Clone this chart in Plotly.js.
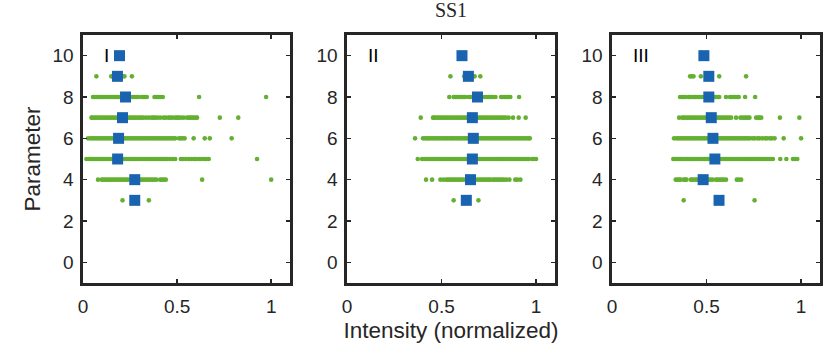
<!DOCTYPE html>
<html>
<head>
<meta charset="utf-8">
<script src="https://cdn.plot.ly/plotly-3.0.1.min.js"></script>
<style>html,body{margin:0;padding:0;background:#fff;}#chart{width:827px;height:354px;}</style>
</head>
<body>
<div id="chart"></div>
<script>
// Parameter values (rows)
const params = [3, 4, 5, 6, 7, 8, 9, 10];
const panelLabels = ["I", "II", "III"];
const xTicks = [0, 0.5, 1];
const xTickText = ["0", "0.5", "1"];
const yTicks = [0, 2, 4, 6, 8, 10];

// Blue squares (per parameter 3..10)
const medI   = [0.275, 0.275, 0.184, 0.189, 0.210, 0.226, 0.183, 0.194];
const medII  = [0.631, 0.653, 0.663, 0.668, 0.663, 0.690, 0.642, 0.608];
const medIII = [0.566, 0.482, 0.544, 0.534, 0.525, 0.512, 0.512, 0.486];

// Green dots, panel I, one array per parameter
const I3 = [0.21, 0.35];
const I4 = [0.08, 0.10, 0.11, 0.12, 0.13, 0.14, 0.15, 0.16, 0.17, 0.18, 0.19, 0.20, 0.21, 0.22, 0.23, 0.24, 0.30, 0.31, 0.32, 0.33, 0.34, 0.35, 0.36, 0.37, 0.38, 0.39, 0.41, 0.42, 0.43, 0.44, 0.633, 1.0];
const I5 = [0.018, 0.03, 0.04, 0.05, 0.06, 0.07, 0.08, 0.09, 0.10, 0.11, 0.12, 0.13, 0.14, 0.15, 0.16, 0.17, 0.18, 0.19, 0.20, 0.21, 0.22, 0.23, 0.24, 0.25, 0.26, 0.27, 0.28, 0.29, 0.30, 0.31, 0.32, 0.33, 0.34, 0.35, 0.36, 0.37, 0.38, 0.39, 0.40, 0.41, 0.42, 0.43, 0.44, 0.446, 0.46, 0.475, 0.49, 0.52, 0.53, 0.545, 0.56, 0.575, 0.59, 0.60, 0.615, 0.63, 0.645, 0.655, 0.668, 0.925];
const I6 = [0.027, 0.04, 0.05, 0.06, 0.07, 0.08, 0.09, 0.10, 0.11, 0.12, 0.13, 0.14, 0.15, 0.16, 0.17, 0.18, 0.19, 0.20, 0.21, 0.22, 0.23, 0.24, 0.25, 0.26, 0.27, 0.28, 0.29, 0.30, 0.31, 0.32, 0.33, 0.34, 0.35, 0.36, 0.37, 0.38, 0.39, 0.40, 0.41, 0.42, 0.43, 0.44, 0.45, 0.46, 0.47, 0.48, 0.49, 0.51, 0.52, 0.53, 0.54, 0.588, 0.647, 0.674, 0.79];
const I7 = [0.045, 0.05, 0.06, 0.07, 0.08, 0.09, 0.10, 0.11, 0.12, 0.13, 0.14, 0.15, 0.16, 0.17, 0.18, 0.19, 0.20, 0.21, 0.22, 0.23, 0.24, 0.25, 0.26, 0.27, 0.28, 0.29, 0.30, 0.31, 0.32, 0.335, 0.35, 0.365, 0.374, 0.383, 0.395, 0.41, 0.428, 0.44, 0.455, 0.463, 0.475, 0.49, 0.50, 0.508, 0.52, 0.535, 0.553, 0.563, 0.57, 0.58, 0.59, 0.60, 0.606, 0.727, 0.825];
const I8 = [0.053, 0.06, 0.07, 0.08, 0.09, 0.10, 0.11, 0.12, 0.13, 0.14, 0.15, 0.16, 0.17, 0.178, 0.187, 0.196, 0.21, 0.22, 0.23, 0.24, 0.25, 0.255, 0.265, 0.275, 0.285, 0.294, 0.312, 0.322, 0.33, 0.339, 0.38, 0.39, 0.40, 0.41, 0.424, 0.617, 0.973];
const I9 = [0.071, 0.15, 0.16, 0.17, 0.19, 0.21, 0.22, 0.26];
const I10 = [];

// Green dots, panel II
const II3 = [0.564, 0.695];
const II4 = [0.418, 0.45, 0.494, 0.511, 0.526, 0.535, 0.545, 0.555, 0.565, 0.575, 0.585, 0.595, 0.605, 0.617, 0.63, 0.67, 0.688, 0.70, 0.71, 0.72, 0.73, 0.74, 0.75, 0.758, 0.772, 0.78, 0.79, 0.80, 0.81, 0.82, 0.83, 0.843, 0.859, 0.89, 0.90, 0.917];
const II5 = [0.374, 0.397, 0.41, 0.42, 0.43, 0.44, 0.45, 0.46, 0.47, 0.48, 0.49, 0.50, 0.51, 0.52, 0.53, 0.54, 0.55, 0.56, 0.57, 0.58, 0.59, 0.60, 0.61, 0.62, 0.63, 0.64, 0.65, 0.66, 0.67, 0.68, 0.69, 0.70, 0.71, 0.72, 0.73, 0.74, 0.75, 0.76, 0.77, 0.78, 0.79, 0.80, 0.81, 0.82, 0.83, 0.84, 0.85, 0.86, 0.87, 0.88, 0.89, 0.90, 0.91, 0.92, 0.93, 0.94, 0.95, 0.961, 0.979, 0.99, 1.0];
const II6 = [0.36, 0.402, 0.413, 0.423, 0.43, 0.44, 0.45, 0.46, 0.47, 0.48, 0.49, 0.50, 0.51, 0.52, 0.53, 0.54, 0.55, 0.56, 0.57, 0.58, 0.59, 0.60, 0.61, 0.62, 0.63, 0.64, 0.65, 0.66, 0.67, 0.68, 0.69, 0.70, 0.71, 0.72, 0.73, 0.74, 0.75, 0.76, 0.77, 0.78, 0.79, 0.80, 0.81, 0.82, 0.83, 0.84, 0.85, 0.86, 0.87, 0.88, 0.89, 0.90, 0.91, 0.92, 0.93, 0.94, 0.95, 0.96, 0.967];
const II7 = [0.39, 0.455, 0.46, 0.47, 0.48, 0.49, 0.50, 0.51, 0.52, 0.53, 0.54, 0.55, 0.56, 0.57, 0.58, 0.59, 0.60, 0.61, 0.62, 0.63, 0.64, 0.65, 0.66, 0.67, 0.68, 0.69, 0.70, 0.71, 0.72, 0.73, 0.74, 0.75, 0.76, 0.77, 0.78, 0.79, 0.80, 0.81, 0.82, 0.83, 0.84, 0.855, 0.878, 0.908, 0.945];
const II8 = [0.541, 0.564, 0.575, 0.585, 0.595, 0.605, 0.615, 0.626, 0.644, 0.652, 0.661, 0.69, 0.718, 0.73, 0.74, 0.75, 0.76, 0.77, 0.785, 0.815, 0.825, 0.835, 0.845, 0.855, 0.864, 0.91];
const II9 = [0.547, 0.62, 0.66, 0.675, 0.705];
const II10 = [];

// Green dots, panel III
const III3 = [0.379, 0.754];
const III4 = [0.337, 0.345, 0.355, 0.363, 0.38, 0.387, 0.394, 0.417, 0.425, 0.435, 0.445, 0.452, 0.48, 0.51, 0.52, 0.532, 0.55, 0.56, 0.57, 0.58, 0.59, 0.603, 0.66, 0.67, 0.683];
const III5 = [0.324, 0.33, 0.34, 0.35, 0.36, 0.37, 0.38, 0.39, 0.40, 0.41, 0.42, 0.43, 0.44, 0.45, 0.46, 0.47, 0.48, 0.49, 0.50, 0.51, 0.52, 0.53, 0.54, 0.55, 0.56, 0.57, 0.58, 0.59, 0.60, 0.61, 0.62, 0.63, 0.64, 0.65, 0.66, 0.67, 0.68, 0.69, 0.70, 0.71, 0.72, 0.73, 0.74, 0.75, 0.76, 0.77, 0.78, 0.79, 0.80, 0.81, 0.82, 0.83, 0.84, 0.851, 0.89, 0.922, 0.957, 0.968, 0.98];
const III6 = [0.328, 0.34, 0.35, 0.36, 0.37, 0.38, 0.39, 0.40, 0.41, 0.42, 0.43, 0.44, 0.45, 0.46, 0.47, 0.48, 0.49, 0.50, 0.51, 0.52, 0.53, 0.54, 0.55, 0.56, 0.57, 0.58, 0.59, 0.60, 0.61, 0.62, 0.63, 0.64, 0.65, 0.66, 0.67, 0.68, 0.69, 0.70, 0.71, 0.72, 0.73, 0.745, 0.755, 0.77, 0.78, 0.795, 0.81, 0.82, 0.835, 0.845, 0.86, 0.908, 1.0];
const III7 = [0.355, 0.372, 0.38, 0.39, 0.40, 0.41, 0.42, 0.43, 0.44, 0.45, 0.46, 0.47, 0.48, 0.49, 0.50, 0.51, 0.52, 0.53, 0.54, 0.55, 0.56, 0.57, 0.58, 0.59, 0.60, 0.61, 0.62, 0.63, 0.656, 0.679, 0.69, 0.70, 0.71, 0.72, 0.727, 0.762, 0.772, 0.78, 0.789, 0.888, 0.991];
const III8 = [0.36, 0.37, 0.38, 0.387, 0.404, 0.41, 0.42, 0.43, 0.44, 0.45, 0.46, 0.47, 0.479, 0.50, 0.52, 0.541, 0.55, 0.56, 0.567, 0.603, 0.624, 0.635, 0.645, 0.655, 0.665, 0.67, 0.704, 0.757];
const III9 = [0.413, 0.422, 0.431, 0.47, 0.512, 0.567, 0.709];
const III10 = [];

const rowsI = [I3, I4, I5, I6, I7, I8, I9, I10];
const rowsII = [II3, II4, II5, II6, II7, II8, II9, II10];
const rowsIII = [III3, III4, III5, III6, III7, III8, III9, III10];

const panels = [
  {rows: rowsI, med: medI, xa: "x", ya: "y"},
  {rows: rowsII, med: medII, xa: "x2", ya: "y2"},
  {rows: rowsIII, med: medIII, xa: "x3", ya: "y3"}
];

const GREEN = "#64b031";
const BLUE = "#1a63b0";
const AX = "#262626";
const SANS = "Liberation Sans, Arial, sans-serif";

const traces = [];
panels.forEach(p => {
  const gx = [], gy = [];
  p.rows.forEach((row, i) => row.forEach(v => { gx.push(v); gy.push(params[i]); }));
  traces.push({type: "scatter", mode: "markers", x: gx, y: gy, xaxis: p.xa, yaxis: p.ya,
    marker: {color: GREEN, size: 4.6, line: {width: 0}}, hoverinfo: "skip", showlegend: false});
  traces.push({type: "scatter", mode: "markers", x: p.med, y: params, xaxis: p.xa, yaxis: p.ya,
    marker: {color: BLUE, size: 11, symbol: "square", line: {width: 0}}, showlegend: false});
});

const W = 827, H = 354;
const xDomains = [[83 / W, 290 / W], [347 / W, 555 / W], [612 / W, 820 / W]];
const yDomain = [1 - 283 / H, 1 - 35 / H];

const tickFont = {family: SANS, size: 19, color: AX};
function xAxis(i) {
  const a = {domain: xDomains[i], range: [0, 1.1], tickvals: xTicks, ticktext: xTickText,
    ticks: "inside", ticklen: 4, tickwidth: 1.5, tickcolor: AX, showline: true, linewidth: 2.6,
    linecolor: AX, mirror: "ticks", showgrid: false, zeroline: false, tickfont: tickFont,
    anchor: i === 0 ? "y" : "y" + (i + 1), fixedrange: true, ticklabelstandoff: 5};
  if (i === 1) a.title = {text: "Intensity (normalized)", font: {family: SANS, size: 22.5, color: AX}, standoff: 6};
  return a;
}
function yAxis(i) {
  const a = {domain: yDomain, range: [-1, 11], tickvals: yTicks,
    ticks: "inside", ticklen: 4, tickwidth: 1.5, tickcolor: AX, showline: true, linewidth: 2.6,
    linecolor: AX, mirror: "ticks", showgrid: false, zeroline: false, tickfont: tickFont,
    anchor: i === 0 ? "x" : "x" + (i + 1), fixedrange: true, ticklabelstandoff: 3};
  if (i === 0) a.title = {text: "Parameter", font: {family: SANS, size: 22.5, color: AX}, standoff: 6};
  return a;
}

const annotations = panelLabels.map((t, i) => ({
  text: t, xref: i === 0 ? "x" : "x" + (i + 1), yref: i === 0 ? "y" : "y" + (i + 1),
  x: 0.1, y: 10, xanchor: "left", yanchor: "middle", showarrow: false,
  font: {family: SANS, size: 19, color: "#000"}
}));

const layout = {
  width: W, height: H, margin: {l: 0, r: 0, t: 0, b: 0},
  paper_bgcolor: "#fff", plot_bgcolor: "#fff",
  title: {text: "SS1", font: {family: "Liberation Serif, Times New Roman, serif", size: 20, color: AX},
    x: 451 / W, xanchor: "center", xref: "paper", y: 1 - 3 / H, yanchor: "top", yref: "container"},
  xaxis: xAxis(0), xaxis2: xAxis(1), xaxis3: xAxis(2),
  yaxis: yAxis(0), yaxis2: yAxis(1), yaxis3: yAxis(2),
  annotations: annotations, showlegend: false
};

Plotly.newPlot("chart", traces, layout, {displayModeBar: false, staticPlot: true});
</script>
</body>
</html>
